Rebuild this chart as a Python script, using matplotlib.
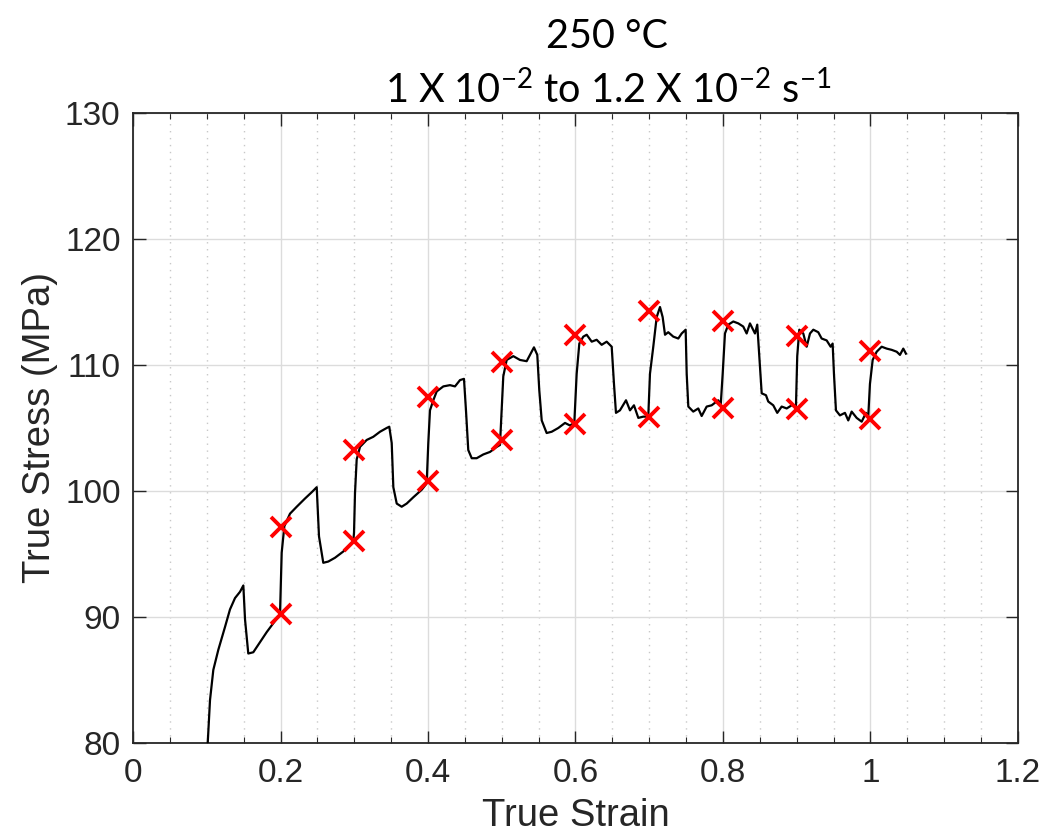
import numpy as np
import matplotlib.pyplot as plt
from matplotlib.ticker import MultipleLocator

# true stress-strain trace, strain-rate jump test at 250 C
strain = [0.1013, 0.1044, 0.1089, 0.1157, 0.1247, 0.1315, 0.1383, 0.1451, 0.1496,
          0.1519, 0.1563, 0.1631, 0.1722, 0.1813, 0.1902, 0.1993,
          0.2016, 0.2052, 0.2129, 0.2220, 0.2332, 0.2423, 0.2491,
          0.2522, 0.2580, 0.2648, 0.2739, 0.2852, 0.2987, 0.2997,
          0.3010, 0.3033, 0.3078, 0.3169, 0.3258, 0.3349, 0.3440, 0.3475,
          0.3508, 0.3530, 0.3576, 0.3643, 0.3711, 0.3801, 0.3915, 0.3982,
          0.4004, 0.4027, 0.4072, 0.4118, 0.4208, 0.4298, 0.4366, 0.4434, 0.4488,
          0.4515, 0.4546, 0.4593, 0.4660, 0.4750, 0.4841, 0.4932, 0.4976,
          0.4999, 0.5021, 0.5067, 0.5157, 0.5247, 0.5338, 0.5383, 0.5437, 0.5482,
          0.5509, 0.5542, 0.5609, 0.5677, 0.5767, 0.5858, 0.5925, 0.5984,
          0.6016, 0.6052, 0.6106, 0.6152, 0.6220, 0.6287, 0.6355, 0.6423, 0.6491,
          0.6522, 0.6549, 0.6603, 0.6685, 0.6739, 0.6793, 0.6852, 0.6919, 0.6987,
          0.7010, 0.7055, 0.7101, 0.7146, 0.7182, 0.7214, 0.7258, 0.7326, 0.7394,
          0.7440, 0.7494,
          0.7508, 0.7530, 0.7597, 0.7665, 0.7711, 0.7779, 0.7847, 0.7936, 0.7969,
          0.7996, 0.8027, 0.8072, 0.8140, 0.8208, 0.8275, 0.8321, 0.8366, 0.8434,
          0.8465,
          0.8492, 0.8525, 0.8583, 0.8614, 0.8682, 0.8736, 0.8796, 0.8864, 0.8932,
          0.8990,
          0.9007, 0.9035, 0.9089, 0.9135, 0.9180, 0.9225, 0.9292, 0.9338, 0.9406,
          0.9460, 0.9487,
          0.9505, 0.9532, 0.9586, 0.9654, 0.9699, 0.9745, 0.9813, 0.9881, 0.9939,
          0.9970,
          0.9993, 1.0030, 1.0084, 1.0152, 1.0220, 1.0288, 1.0356, 1.0400, 1.0445,
          1.0481]
stress = [80.0, 83.4, 85.8, 87.4, 89.2, 90.6, 91.5, 92.0, 92.5,
          89.8, 87.1, 87.2, 88.0, 88.8, 89.5, 90.2,
          95.1, 97.2, 98.2, 98.75, 99.4, 99.9, 100.3,
          96.4, 94.3, 94.4, 94.7, 95.2, 96.0, 96.7,
          99.8, 102.5, 103.5, 104.05, 104.3, 104.7, 105.0, 105.1,
          103.8, 100.3, 99.0, 98.75, 99.0, 99.5, 100.1, 100.6,
          103.8, 106.4, 107.2, 107.9, 108.3, 108.4, 108.3, 108.8, 108.9,
          106.4, 103.25, 102.6, 102.6, 102.9, 103.1, 103.5, 103.65,
          106.4, 109.1, 110.4, 110.7, 110.4, 110.3, 110.8, 111.4, 110.8,
          108.0, 105.6, 104.6, 104.7, 105.0, 105.4, 105.2, 105.4,
          109.3, 111.7, 112.25, 112.4, 111.85, 112.0, 111.6, 111.85, 111.45,
          108.5, 106.2, 106.4, 107.2, 106.4, 106.8, 105.8, 105.9, 105.9,
          109.3, 111.45, 113.8, 114.6, 113.8, 112.4, 112.6, 112.25, 112.1,
          112.5, 112.8,
          109.3, 106.7, 106.3, 106.55, 105.95, 106.7, 106.8, 107.2, 106.8,
          109.3, 112.5, 113.2, 113.45, 113.3, 113.05, 112.5, 113.3, 112.5,
          113.2,
          110.7, 107.75, 107.6, 107.1, 106.8, 106.2, 106.7, 106.55, 106.8,
          106.8,
          110.7, 112.8, 112.5, 111.45, 112.5, 112.8, 112.6, 112.1, 111.95,
          111.45, 111.7,
          109.3, 106.4, 106.0, 106.2, 105.6, 106.3, 105.8, 105.5, 106.2,
          105.9,
          108.5, 110.4, 111.05, 111.45, 111.3, 111.2, 111.05, 110.8, 111.3,
          110.9]

# stress picked before / after each rate jump
jump_strain = [0.2, 0.2, 0.3, 0.3, 0.4, 0.4, 0.5, 0.5, 0.6, 0.6,
               0.7, 0.7, 0.8, 0.8, 0.9, 0.9, 1.0, 1.0]
jump_stress = [90.24, 97.14, 96.03, 103.25, 100.79, 107.46, 104.05, 110.24,
               105.32, 112.38, 105.87, 114.29, 106.59, 113.49, 106.51, 112.30,
               105.71, 111.11]

x_ticks = [0, 0.2, 0.4, 0.6, 0.8, 1.0, 1.2]
x_tick_labels = ['0', '0.2', '0.4', '0.6', '0.8', '1', '1.2']

plt.rcParams['font.family'] = ['Liberation Sans', 'DejaVu Sans']
plt.rcParams['mathtext.fontset'] = 'custom'
plt.rcParams['mathtext.rm'] = 'Lato'
plt.rcParams['mathtext.it'] = 'Lato'

fig = plt.figure(figsize=(10.54, 8.4), dpi=100)
ax = fig.add_axes([0.1262, 0.1155, 0.8396, 0.75])

ax.plot(strain, stress, color='black', lw=1.6, zorder=3)
ax.plot(jump_strain, jump_stress, 'x', color='#ff0000', ms=15, mew=2.8, zorder=4)

ax.set_xlim(0, 1.2)
ax.set_ylim(80, 130)
ax.set_xticks(x_ticks)
ax.set_xticklabels(x_tick_labels)
ax.xaxis.set_minor_locator(MultipleLocator(0.05))
ax.yaxis.set_major_locator(MultipleLocator(10))

ax.grid(True, which='major', color='#dcdcdc', lw=1.0, zorder=0)
ax.grid(True, which='minor', axis='x', color='#c8c8c8', lw=1.0, ls=(0, (1, 4)), zorder=0)

ax.tick_params(which='both', direction='in', top=True, right=True,
               labelsize=24, colors='#262626')
ax.tick_params(axis='x', pad=11)
ax.tick_params(axis='y', pad=9)
ax.tick_params(which='major', length=9, width=1.0)
ax.tick_params(which='minor', length=4, width=0.8)
for s in ax.spines.values():
    s.set_color('#262626')
    s.set_linewidth(1.3)

ax.set_xlabel('True Strain', fontsize=27.5, color='#262626', labelpad=6)
ax.set_ylabel('True Stress (MPa)', fontsize=27.5, color='#262626', labelpad=5)

fig.text(0.576, 0.979, '250 °C', ha='center', va='top', fontsize=28.5, family='Lato')
fig.text(0.577, 0.917, r'1 X 10$^{-2}$ to 1.2 X 10$^{-2}$ s$^{-1}$',
         ha='center', va='top', fontsize=28.5, family='Lato')

fig.savefig('out.png', dpi=100)
